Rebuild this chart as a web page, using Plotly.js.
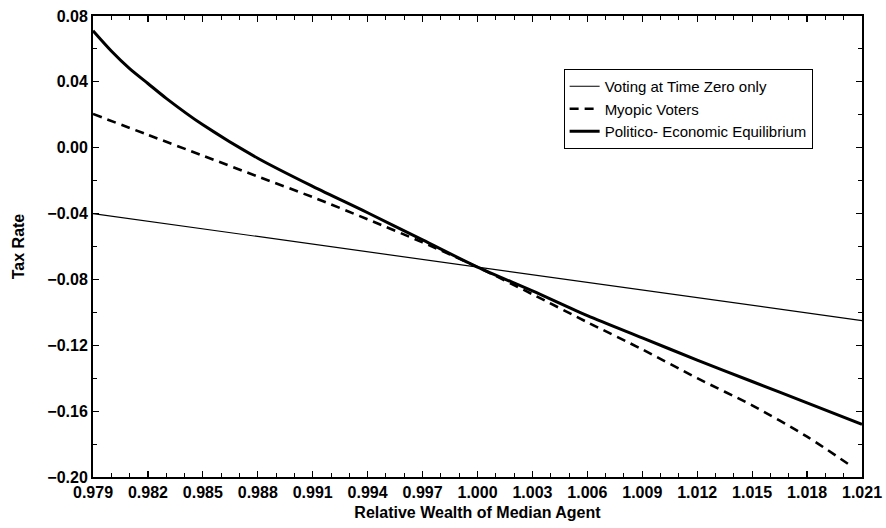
<!DOCTYPE html>
<html>
<head>
<meta charset="utf-8">
<script src="https://cdn.plot.ly/plotly-3.0.1.min.js"></script>
<style>html,body{margin:0;padding:0;background:#fff;}#chart{width:886px;height:528px;}</style>
</head>
<body>
<div id="chart"></div>
<script>
// Relative wealth of median agent (x) and tax rates
const timeZeroWealth = [0.979, 1.021];
const timeZeroRate = [-0.040, -0.105];
const myopicWealth = [0.979, 0.982, 0.985, 0.988, 0.991, 0.994, 0.997, 1.000, 1.003, 1.006, 1.009, 1.012, 1.015, 1.018, 1.0205];
const myopicRate = [0.0205, 0.0078, -0.0048, -0.0175, -0.030, -0.0435, -0.0575, -0.0725, -0.089, -0.106, -0.1225, -0.140, -0.1565, -0.1755, -0.194];
const equilibriumWealth = [0.979, 0.980, 0.981, 0.982, 0.983, 0.985, 0.988, 0.991, 0.994, 0.997, 1.000, 1.003, 1.006, 1.009, 1.012, 1.015, 1.018, 1.021];
const equilibriumRate = [0.071, 0.0587, 0.048, 0.039, 0.030, 0.0139, -0.0064, -0.0235, -0.0395, -0.056, -0.0725, -0.087, -0.102, -0.1155, -0.129, -0.142, -0.155, -0.168];
const seriesNames = ["Voting at Time Zero only", "Myopic Voters", "Politico- Economic Equilibrium"];
const xTicks = [0.979, 0.982, 0.985, 0.988, 0.991, 0.994, 0.997, 1.000, 1.003, 1.006, 1.009, 1.012, 1.015, 1.018, 1.021];
const yTicks = [0.08, 0.04, 0.00, -0.04, -0.08, -0.12, -0.16, -0.20];

const font = "Liberation Sans, Arial, sans-serif";
const traces = [
  {x: timeZeroWealth, y: timeZeroRate, name: seriesNames[0], mode: "lines",
   line: {color: "#000", width: 1.2}},
  {x: myopicWealth, y: myopicRate, name: seriesNames[1], mode: "lines",
   line: {color: "#000", width: 2.6, dash: "9px,6px", shape: "spline", smoothing: 0.8}},
  {x: equilibriumWealth, y: equilibriumRate, name: seriesNames[2], mode: "lines",
   line: {color: "#000", width: 3, shape: "spline", smoothing: 0.8}}
];
const axisCommon = {
  showgrid: false, zeroline: false, showline: true, linecolor: "#000", linewidth: 2,
  mirror: "allticks", ticks: "inside", ticklen: 6, tickwidth: 1.2, tickcolor: "#000",
  tickfont: {family: font, size: 16, color: "#000", weight: "bold"},
  minor: {ticks: "inside", ticklen: 4, tickwidth: 1, tickcolor: "#000"}
};
const layout = {
  width: 886, height: 528,
  margin: {l: 93, r: 24, t: 16, b: 51},
  paper_bgcolor: "#fff", plot_bgcolor: "#fff",
  showlegend: true,
  legend: {x: 0.612, y: 0.885, xanchor: "left", yanchor: "top",
    bordercolor: "#000", borderwidth: 1, bgcolor: "#fff",
    entrywidth: 245, entrywidthmode: "pixels",
    font: {family: font, size: 15, color: "#000"}, tracegroupgap: 0},
  xaxis: Object.assign({}, axisCommon, {
    range: [0.979, 1.021], tickvals: xTicks, ticktext: xTicks.map(v => v.toFixed(3)),
    minor: Object.assign({}, axisCommon.minor, {dtick: 0.001, tick0: 0.979}),
    title: {text: "Relative Wealth of Median Agent", standoff: 7,
      font: {family: font, size: 16, color: "#000", weight: "bold"}}
  }),
  yaxis: Object.assign({}, axisCommon, {
    range: [-0.20, 0.08], tickvals: yTicks,
    ticktext: yTicks.map(v => (v < 0 ? "\u2212" + Math.abs(v).toFixed(2) : v.toFixed(2))),
    minor: Object.assign({}, axisCommon.minor, {dtick: 0.02, tick0: 0}),
    title: {text: "Tax Rate", standoff: 19,
      font: {family: font, size: 16, color: "#000", weight: "bold"}}
  })
};
Plotly.newPlot("chart", traces, layout, {displayModeBar: false, staticPlot: true});
</script>
</body>
</html>
